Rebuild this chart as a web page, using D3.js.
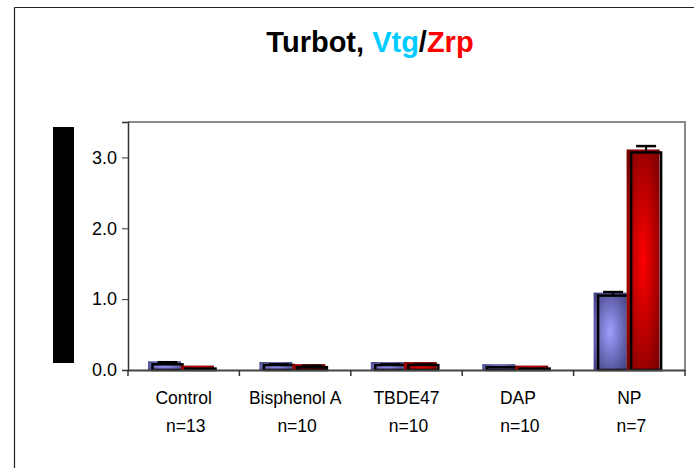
<!DOCTYPE html>
<html>
<head>
<meta charset="utf-8">
<script src="https://cdn.jsdelivr.net/npm/d3@7"></script>
<style>
  body { margin: 0; background: #fff; }
  svg { display: block; }
</style>
</head>
<body>
<div class="chart"></div>
<script>
// data
var categories = ["Control", "Bisphenol A", "TBDE47", "DAP", "NP"]
var counts = ["n=13", "n=10", "n=10", "n=10", "n=7"]
var series = ["Vtg", "Zrp"]
var vtg = [0.08, 0.07, 0.07, 0.04, 1.05]
var zrp = [0.02, 0.04, 0.07, 0.02, 3.07]
var vtgErr = [0.03, 0.01, 0.01, 0.00, 0.05]
var zrpErr = [0.00, 0.02, 0.01, 0.00, 0.09]
var yTicks = [0, 1, 2, 3]

var width = 694, height = 468
var plotL = 128, plotR = 685, plotT = 122, plotB = 370

var svg = d3.select(".chart")
    .append("svg")
    .attr("width", width)
    .attr("height", height)

// gradients, light in the middle, dark at the edges
var defs = svg.append("defs")
var grads = [["gVtg", "#a0a0ff", "#3a3a78"], ["gZrp", "#ff0000", "#6e0000"]]
grads.forEach(g => {
    var rg = defs.append("radialGradient")
        .attr("id", g[0])
        .attr("cx", "50%").attr("cy", "50%").attr("r", "72%")
    rg.append("stop").attr("offset", "0%").attr("stop-color", g[1])
    rg.append("stop").attr("offset", "100%").attr("stop-color", g[2])
})

// outer frame (only top and left show)
svg.append("line")
    .attr("x1", 14.5).attr("y1", 7.5).attr("x2", width).attr("y2", 7.5)
    .style("stroke", "#222").style("stroke-width", 1.2)
svg.append("line")
    .attr("x1", 14.5).attr("y1", 7.5).attr("x2", 14.5).attr("y2", height)
    .style("stroke", "#222").style("stroke-width", 1.2)

// title
var title = svg.append("text")
    .attr("x", 370)
    .attr("y", 52)
    .attr("text-anchor", "middle")
    .attr("font-family", "Liberation Sans, Arial, sans-serif")
    .attr("font-weight", "bold")
    .style("font-size", "29px")
title.append("tspan").text("Turbot, ").attr("fill", "#000")
title.append("tspan").text("Vtg").attr("fill", "#00ccff")
title.append("tspan").text("/").attr("fill", "#000")
title.append("tspan").text("Zrp").attr("fill", "#ff0000")

// hidden y title block
svg.append("rect")
    .attr("x", 53).attr("y", 127)
    .attr("width", 21).attr("height", 236)
    .attr("fill", "#000")

var x = d3.scaleBand().domain(categories).range([plotL, plotR]).padding(0)
var xi = d3.scaleBand().domain(series).range([20, 86]).padding(0)
var y = d3.scaleLinear().domain([0, 3.5]).range([plotB, plotT])

// plot border top/right
svg.append("path")
    .attr("d", "M" + plotL + "," + plotT + "H" + plotR + "V" + plotB)
    .attr("fill", "none")
    .style("stroke", "#8a8a8a").style("stroke-width", 2)

// y axis
var yAxis = svg.append("g")
    .attr("transform", "translate(" + plotL + ",0)")
    .call(d3.axisLeft(y).tickValues(yTicks).tickFormat(d3.format(".1f")).tickSizeOuter(0).tickSize(6).tickPadding(5))
yAxis.select(".domain").style("stroke", "#333").style("stroke-width", 1.5)
yAxis.selectAll(".tick line").style("stroke", "#333")
yAxis.selectAll(".tick text")
    .attr("font-family", "Liberation Sans, Arial, sans-serif")
    .style("font-size", "18px")
    .attr("fill", "#000")

// bars
var rows = categories.map((c, i) => ({ c: c, vals: [vtg[i], zrp[i]], errs: [vtgErr[i], zrpErr[i]] }))
var fills = ["url(#gVtg)", "url(#gZrp)"]

rows.forEach(r => {
    series.forEach((s, j) => {
        var bx = x(r.c) + xi(s)
        var bw = xi.bandwidth()
        var v = r.vals[j]
        // filled bar, sits a little up and left
        svg.append("rect")
            .attr("x", bx)
            .attr("y", y(v) - 3)
            .attr("width", bw)
            .attr("height", plotB - y(v) + 3)
            .attr("fill", fills[j])
        // black outline, shifted
        svg.append("rect")
            .attr("x", bx + 4.5)
            .attr("y", y(v))
            .attr("width", bw - 3)
            .attr("height", plotB - y(v))
            .attr("fill", "none")
            .style("stroke", "#000")
            .style("stroke-width", 2.5)
        // error bar
        var cx = bx + 4.5 + (bw - 3) / 2
        var e = r.errs[j]
        if (e > 0) {
            svg.append("line")
                .attr("x1", cx).attr("x2", cx)
                .attr("y1", y(v)).attr("y2", y(v + e))
                .style("stroke", "#000").style("stroke-width", 2)
            svg.append("line")
                .attr("x1", cx - 10).attr("x2", cx + 10)
                .attr("y1", y(v + e)).attr("y2", y(v + e))
                .style("stroke", "#000").style("stroke-width", 2.5)
        }
    })
})

// x axis
var xAxis = svg.append("g")
    .attr("transform", "translate(0," + plotB + ")")
    .call(d3.axisBottom(x).tickSize(0).tickFormat(""))
xAxis.select(".domain").style("stroke", "#444").style("stroke-width", 2)
var bounds = categories.map(c => x(c)).concat([plotR])
xAxis.selectAll(".sep")
    .data(bounds)
    .enter().append("line")
    .attr("x1", d => d).attr("x2", d => d)
    .attr("y1", 0).attr("y2", 6)
    .style("stroke", "#333").style("stroke-width", 1.5)

svg.selectAll(".cat")
    .data(categories)
    .enter().append("text")
    .attr("x", d => x(d) + x.bandwidth() / 2)
    .attr("y", 404)
    .attr("text-anchor", "middle")
    .attr("font-family", "Liberation Sans, Arial, sans-serif")
    .style("font-size", "17.5px")
    .text(d => d)

svg.selectAll(".cnt")
    .data(counts)
    .enter().append("text")
    .attr("x", (d, i) => x(categories[i]) + x.bandwidth() / 2 + 2)
    .attr("y", 432)
    .attr("text-anchor", "middle")
    .attr("font-family", "Liberation Sans, Arial, sans-serif")
    .style("font-size", "17.5px")
    .text(d => d)
</script>
</body>
</html>
